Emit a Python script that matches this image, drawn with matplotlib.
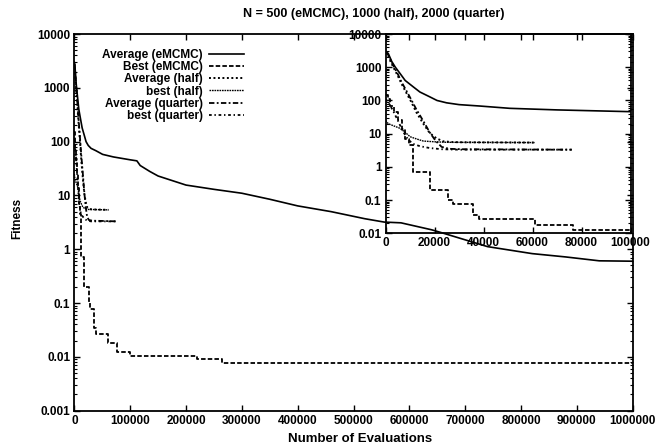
import matplotlib
matplotlib.use("Agg")
import matplotlib.pyplot as plt
from matplotlib.ticker import FixedLocator, FuncFormatter, LogLocator, NullFormatter, NullLocator

plt.rcParams['font.family'] = ['Liberation Sans', 'DejaVu Sans']
plt.rcParams['font.weight'] = 'bold'
plt.rcParams['font.size'] = 8.5

# ---- data ----
avg_emcmc_x = [0, 1100, 2500, 4000, 5900, 8000, 11300, 14000, 18100, 21000, 24900, 30000,
               38500, 50700, 70000, 100000, 112000, 118000, 135000, 150000, 200000, 250000,
               300000, 350000, 400000, 460000, 520000, 555000, 585000, 640000, 660000,
               740000, 820000, 880000, 940000, 1000000]
avg_emcmc_y = [3000, 2600, 1500, 1000, 650, 400, 257, 180, 128, 100, 85, 75,
               68, 58, 52, 46, 44, 36, 28, 23, 15.6, 13,
               11, 8.5, 6.4, 5.0, 3.7, 3.2, 3.1, 2.3, 2.0,
               1.12, 0.83, 0.72, 0.61, 0.6]

best_emcmc_x = [0, 800, 2000, 3500, 5000, 6500, 8000, 9500, 11300, 18100, 25600, 27500,
                35800, 38000, 61000, 76500, 100000, 220000, 265000, 1000000]
best_emcmc_y = [150, 110, 70, 45, 25, 14, 7, 4.5, 0.71, 0.2, 0.1, 0.079,
                0.035, 0.027, 0.018, 0.0125, 0.0102, 0.0092, 0.0078, 0.0076]

avg_half_x = [0, 1000, 2000, 3500, 5000, 6500, 8600, 10500, 12500, 15400, 18000, 20800,
              23500, 27000, 32000, 61000]
avg_half_y = [2800, 2300, 1500, 900, 550, 320, 163, 90, 45, 20, 10.5, 7.2,
              5.9, 5.6, 5.5, 5.4]

best_half_x = [0, 1100, 3500, 5900, 8000, 10000, 12500, 15400, 20000, 25000, 61000]
best_half_y = [25, 20, 17, 14.5, 11, 8.1, 7, 6, 5.7, 5.5, 5.4]

avg_quarter_x = [0, 1000, 2000, 3500, 5000, 6500, 8600, 10500, 12500, 15400, 18000, 20500,
                 22900, 26000, 32000, 76000]
avg_quarter_y = [2800, 2400, 1700, 1000, 620, 360, 190, 105, 55, 24, 11, 6,
                 4.0, 3.5, 3.4, 3.3]

best_quarter_x = [0, 1000, 3000, 5000, 7000, 9000, 11000, 14000, 18000, 23000, 30000, 76000]
best_quarter_y = [110, 90, 50, 25, 12, 7, 5, 4.2, 3.7, 3.4, 3.3, 3.3]

main_xticks = [0, 100000, 200000, 300000, 400000, 500000, 600000, 700000, 800000, 900000, 1000000]
main_yticks = [0.001, 0.01, 0.1, 1, 10, 100, 1000, 10000]
inset_xticks = [0, 20000, 40000, 60000, 80000, 100000]
inset_yticks = [0.01, 0.1, 1, 10, 100, 1000, 10000]

labels = ['Average (eMCMC)', 'Best (eMCMC)', 'Average (half)', 'best (half)',
          'Average (quarter)', 'best (quarter)']

series = [
    (avg_emcmc_x, avg_emcmc_y, dict(linestyle='-', linewidth=1.2)),
    (best_emcmc_x, best_emcmc_y, dict(linestyle=(0, (2.5, 1.2)), linewidth=1.3, drawstyle='steps-post')),
    (avg_half_x, avg_half_y, dict(linestyle=(0, (1.0, 1.3)), linewidth=1.4)),
    (best_half_x, best_half_y, dict(linestyle=(0, (1.2, 0.6)), linewidth=1.0)),
    (avg_quarter_x, avg_quarter_y, dict(linestyle=(0, (3.0, 1.3, 1.0, 1.3)), linewidth=1.3)),
    (best_quarter_x, best_quarter_y, dict(linestyle=(0, (1.5, 1.5, 0.8, 1.5)), linewidth=1.3)),
]


def tick_fmt(v, pos):
    return ('%d' % round(v)) if v >= 1 else ('%g' % v)


fmt = FuncFormatter(tick_fmt)

fig = plt.figure(figsize=(6.59, 4.48), dpi=100)
ax = fig.add_axes([0.1128, 0.0833, 0.8473, 0.8407])
axin = fig.add_axes([0.5851, 0.4792, 0.3717, 0.4448])
axin.patch.set_alpha(0.0)

for a in (ax, axin):
    for (xs, ys, st), lab in zip(series, labels):
        a.plot(xs, ys, color='black', label=lab, **st)
    a.set_yscale('log')
    a.tick_params(which='both', direction='in', top=True, right=True, labelsize=8.5, pad=3)
    a.tick_params(which='major', length=4, width=1)
    a.tick_params(which='minor', length=2, width=0.8)
    a.yaxis.set_minor_locator(LogLocator(base=10, subs=range(2, 10), numticks=20))
    a.yaxis.set_minor_formatter(NullFormatter())
    a.xaxis.set_minor_locator(NullLocator())
    for s in a.spines.values():
        s.set_linewidth(1.3)

ax.set_xlim(0, 1000000)
ax.set_ylim(0.001, 10000)
ax.xaxis.set_major_locator(FixedLocator(main_xticks))
ax.yaxis.set_major_locator(FixedLocator(main_yticks))
ax.xaxis.set_major_formatter(fmt)
ax.yaxis.set_major_formatter(fmt)

axin.set_xlim(0, 100000)
axin.set_ylim(0.01, 10000)
axin.xaxis.set_major_locator(FixedLocator(inset_xticks))
axin.yaxis.set_major_locator(FixedLocator(inset_yticks))
axin.xaxis.set_major_formatter(fmt)
axin.yaxis.set_major_formatter(fmt)

fig.text(374 / 659, 1 - 14 / 448, 'N = 500 (eMCMC), 1000 (half), 2000 (quarter)',
         ha='center', va='center', fontsize=9, fontweight='bold')
ax.set_xlabel('Number of Evaluations', fontsize=9.5, fontweight='bold')
ax.xaxis.set_label_coords(0.512, -0.06)
ax.set_ylabel('Fitness', fontsize=8.5, fontweight='bold')
ax.yaxis.set_label_coords(-0.092, 0.51)

ax.legend(loc='upper right', bbox_to_anchor=(250 / 659, 1 - 43 / 448),
          bbox_transform=fig.transFigure, frameon=False, markerfirst=False,
          handlelength=3.0, handletextpad=0.5, labelspacing=0.02, borderpad=0,
          fontsize=8.5)

fig.savefig('out.png', dpi=100)
